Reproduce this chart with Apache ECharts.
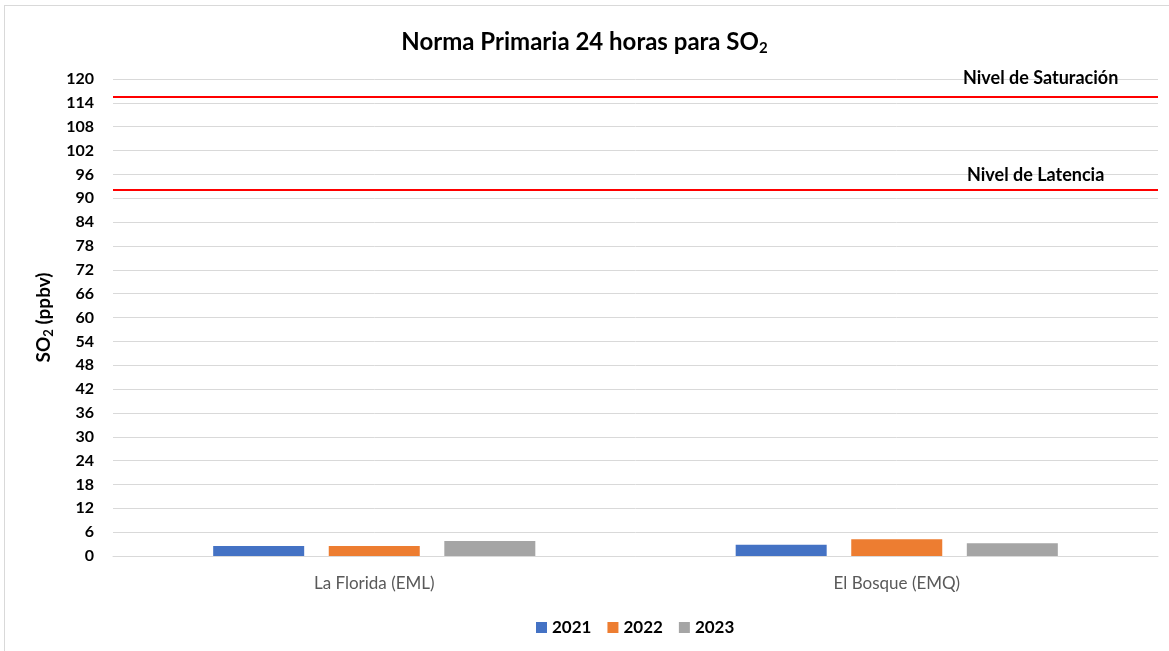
<!DOCTYPE html>
<html>
<head>
<meta charset="utf-8">
<script src="https://cdn.jsdelivr.net/npm/echarts@6/dist/echarts.min.js"></script>
<style>
html,body{margin:0;padding:0;background:#fff;overflow:hidden;}
#frame{position:absolute;left:4px;top:5px;width:1200px;height:700px;border:1px solid #d9d9d9;box-sizing:border-box;}
#chart{position:absolute;left:0;top:0;width:1169px;height:651px;}
</style>
</head>
<body>
<div id="frame"></div>
<div id="chart"></div>
<script>
// estaciones y años
const estaciones = ['La Florida (EML)', 'El Bosque (EMQ)'];
const anios = ['2021', '2022', '2023'];
// valores SO2 (ppbv) por año
const so2_2021 = [2.5, 2.8];
const so2_2022 = [2.5, 4.2];
const so2_2023 = [3.8, 3.2];
// niveles de referencia
const nivelSaturacion = 115.6;
const nivelLatencia = 92.2;

const colores = ['#4472c4', '#ed7d31', '#a5a5a5'];
const FONT = 'Lato, "Liberation Sans", sans-serif';

const chart = echarts.init(document.getElementById('chart'));

const valores = [so2_2021, so2_2022, so2_2023];

const series = anios.map((a, i) => {
    const s = {
        name: a,
        type: 'bar',
        data: valores[i],
        barWidth: 91,
        barGap: '27%',
        itemStyle: {color: colores[i]}
    };
    if (i === 0) {
        // lineas de nivel con su etiqueta
        s.markLine = {
            symbol: 'none',
            silent: true,
            lineStyle: {color: '#ff0000', width: 2, type: 'solid'},
            label: {
                position: 'insideEndTop',
                align: 'left',
                color: '#000',
                fontFamily: FONT,
                fontWeight: 'bold',
                fontSize: 18
            },
            data: [
                {yAxis: nivelSaturacion, label: {formatter: 'Nivel de Saturación', offset: [-190, -4]}},
                {yAxis: nivelLatencia, label: {formatter: 'Nivel de Latencia', offset: [-186, 0]}}
            ]
        };
    }
    return s;
});

chart.setOption({
    animation: false,
    textStyle: {fontFamily: FONT},
    title: {
        text: '{a|Norma Primaria 24 horas para SO}{s|2}',
        left: 'center',
        top: 24,
        textStyle: {
            rich: {
                a: {fontFamily: FONT, fontWeight: 'bold', fontSize: 24, color: '#000'},
                s: {fontFamily: FONT, fontWeight: 'bold', fontSize: 15, color: '#000', padding: [12, 0, 0, 0]}
            }
        }
    },
    legend: {
        bottom: 10,
        left: 531,
        itemWidth: 11,
        itemHeight: 11,
        itemGap: 16,
        icon: 'rect',
        textStyle: {fontFamily: FONT, fontWeight: 'bold', fontSize: 17, color: '#000'},
        data: anios
    },
    grid: {left: 113, right: 11, top: 79, bottom: 95},
    xAxis: {
        type: 'category',
        data: estaciones,
        axisTick: {show: false},
        axisLine: {lineStyle: {color: '#d9d9d9'}},
        axisLabel: {color: '#595959', fontSize: 17, margin: 19, fontFamily: FONT}
    },
    yAxis: {
        type: 'value',
        min: 0,
        max: 120,
        interval: 6,
        name: '{a|SO}{s|2}{a| (ppbv)}',
        nameLocation: 'middle',
        nameGap: 56,
        nameRotate: 90,
        nameTextStyle: {
            rich: {
                a: {fontFamily: FONT, fontWeight: 'bold', fontSize: 19, color: '#000'},
                s: {fontFamily: FONT, fontWeight: 'bold', fontSize: 13, color: '#000', padding: [9, 0, 0, 0]}
            }
        },
        axisLine: {show: false},
        axisTick: {show: false},
        splitLine: {lineStyle: {color: '#d9d9d9', width: 1}},
        axisLabel: {color: '#000', fontWeight: 'bold', fontSize: 16, margin: 19, fontFamily: FONT}
    },
    series: series
});
</script>
</body>
</html>
